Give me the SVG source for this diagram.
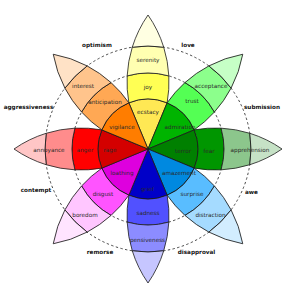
<svg xmlns="http://www.w3.org/2000/svg" width="295" height="300" viewBox="0 0 295 300">
<style>
.b{stroke:#1a1a1a;stroke-width:0.8;stroke-linejoin:round}
.ring{fill:none;stroke:#1a1a1a;stroke-width:0.8;stroke-dasharray:2.4,2.4}
.t{font-family:"DejaVu Sans",sans-serif;font-size:5.7px;fill:#2a2a2a;text-anchor:middle}
.d{font-family:"DejaVu Sans",sans-serif;font-size:5.7px;font-weight:bold;fill:#111;text-anchor:middle}
</style>
<defs>
<path id="b1" d="M0,0 L-19.13,-46.19 A50,50 0 0 1 19.13,-46.19 Z"/>
<path id="b2" d="M19.13,-46.19 A117.43,117.43 0 0 0 20.83,-73.09 A76,76 0 0 0 -20.83,-73.09 A117.43,117.43 0 0 0 -19.13,-46.19 A50,50 0 0 1 19.13,-46.19 Z"/>
<path id="b3" d="M20.83,-73.09 A117.43,117.43 0 0 0 15.72,-101.79 A103,103 0 0 0 -15.72,-101.79 A117.43,117.43 0 0 0 -20.83,-73.09 A76,76 0 0 1 20.83,-73.09 Z"/>
<path id="b4" d="M15.72,-101.79 A117.43,117.43 0 0 0 0,-134 A117.43,117.43 0 0 0 -15.72,-101.79 A103,103 0 0 1 15.72,-101.79 Z"/>
</defs>
<rect width="295" height="300" fill="#fff"/>
<g id="connectors">
<circle class="ring" cx="148" cy="149" r="76"/>
<circle class="ring" cx="148" cy="149" r="103"/>
</g>
<g id="petal-joy">
<g transform="translate(148,149)" class="b">
<use href="#b1" fill="#FFE854"/><use href="#b2" fill="#FFFF54"/><use href="#b3" fill="#FFFFB1"/><use href="#b4" fill="#FFFFE2"/>
</g>
<text class="t" x="148" y="114">ecstacy</text>
<text class="t" x="148" y="89">joy</text>
<text class="t" x="148" y="62">serenity</text>
</g>
<g id="petal-trust">
<g transform="translate(148,149) rotate(45)" class="b">
<use href="#b1" fill="#00B400"/><use href="#b2" fill="#54FF54"/><use href="#b3" fill="#8CFF8C"/><use href="#b4" fill="#C6FFC6"/>
</g>
<text class="t" x="180" y="129">admiration</text>
<text class="t" x="192" y="103">trust</text>
<text class="t" x="211" y="88">acceptance</text>
</g>
<g id="petal-fear">
<g transform="translate(148,149) rotate(90)" class="b">
<use href="#b1" fill="#008000"/><use href="#b2" fill="#009600"/><use href="#b3" fill="#8CC68C"/><use href="#b4" fill="#C6E2C6"/>
</g>
<text class="t" x="183" y="152.5">terror</text>
<text class="t" x="209" y="152.5">fear</text>
<text class="t" x="250" y="152">apprehension</text>
</g>
<g id="petal-surprise">
<g transform="translate(148,149) rotate(135)" class="b">
<use href="#b1" fill="#0089E0"/><use href="#b2" fill="#59BDFF"/><use href="#b3" fill="#A5DBFF"/><use href="#b4" fill="#D2EDFF"/>
</g>
<text class="t" x="179" y="175">amazement</text>
<text class="t" x="192" y="196">surprise</text>
<text class="t" x="210.5" y="217">distraction</text>
</g>
<g id="petal-sadness">
<g transform="translate(148,149) rotate(180)" class="b">
<use href="#b1" fill="#0000C8"/><use href="#b2" fill="#5151FF"/><use href="#b3" fill="#8C8CFF"/><use href="#b4" fill="#C6C6FF"/>
</g>
<text class="t" x="147.5" y="191">grief</text>
<text class="t" x="148" y="215">sadness</text>
<text class="t" x="147.5" y="242">pensiveness</text>
</g>
<g id="petal-disgust">
<g transform="translate(148,149) rotate(225)" class="b">
<use href="#b1" fill="#DE00DE"/><use href="#b2" fill="#FF54FF"/><use href="#b3" fill="#FFC6FF"/><use href="#b4" fill="#FFE4FF"/>
</g>
<text class="t" x="122" y="175">loathing</text>
<text class="t" x="103" y="196">disgust</text>
<text class="t" x="85" y="217">boredom</text>
</g>
<g id="petal-anger">
<g transform="translate(148,149) rotate(270)" class="b">
<use href="#b1" fill="#D40000"/><use href="#b2" fill="#FF0000"/><use href="#b3" fill="#FF8C8C"/><use href="#b4" fill="#FFC6C6"/>
</g>
<text class="t" x="110" y="152">rage</text>
<text class="t" x="85" y="152">anger</text>
<text class="t" x="49" y="152">annoyance</text>
</g>
<g id="petal-anticipation">
<g transform="translate(148,149) rotate(315)" class="b">
<use href="#b1" fill="#FF7D00"/><use href="#b2" fill="#FFA854"/><use href="#b3" fill="#FFC48C"/><use href="#b4" fill="#FFE2C6"/>
</g>
<text class="t" x="122" y="129">vigilance</text>
<text class="t" x="105" y="104">anticipation</text>
<text class="t" x="83" y="88">interest</text>
</g>
<g id="dyad-optimism"><text class="d" x="97" y="47">optimism</text></g>
<g id="dyad-love"><text class="d" x="188" y="47">love</text></g>
<g id="dyad-submission"><text class="d" x="262" y="109">submission</text></g>
<g id="dyad-awe"><text class="d" x="251.5" y="193.5">awe</text></g>
<g id="dyad-disapproval"><text class="d" x="196.5" y="254">disapproval</text></g>
<g id="dyad-remorse"><text class="d" x="100" y="254">remorse</text></g>
<g id="dyad-contempt"><text class="d" x="36" y="192">contempt</text></g>
<g id="dyad-aggressiveness"><text class="d" x="28.5" y="109">aggressiveness</text></g>
</svg>
